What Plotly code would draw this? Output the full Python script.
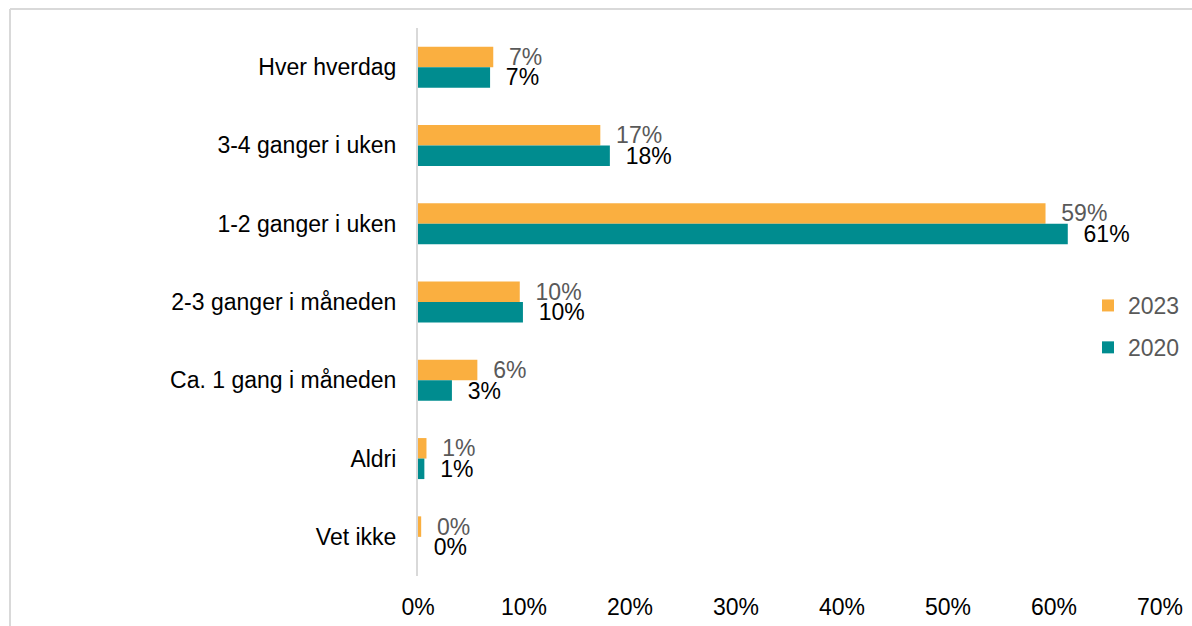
import plotly.graph_objects as go

categories = ["Hver hverdag", "3-4 ganger i uken", "1-2 ganger i uken", "2-3 ganger i måneden",
              "Ca. 1 gang i måneden", "Aldri", "Vet ikke"]
values_2023 = [0.071, 0.172, 0.592, 0.096, 0.056, 0.008, 0.003]
values_2020 = [0.068, 0.181, 0.613, 0.099, 0.032, 0.006, 0.0]
x_ticks = [0, 0.1, 0.2, 0.3, 0.4, 0.5, 0.6, 0.7]
x_ticklabels = ["0%", "10%", "20%", "30%", "40%", "50%", "60%", "70%"]

ORANGE = "#FAAF40"
TEAL = "#008C8F"
FONT = "Liberation Sans, Arial, sans-serif"
FS = 23

fig = go.Figure()
fig.add_trace(go.Bar(
    y=categories, x=values_2023, name="2023", orientation="h",
    marker=dict(color=ORANGE, line=dict(width=0)),
    texttemplate="  %{x:.0%}", textposition="outside", constraintext="none",
    textfont=dict(family=FONT, size=FS, color="#595959"),
    cliponaxis=False, legendgroup="a",
))
fig.add_trace(go.Bar(
    y=categories, x=values_2020, name="2020", orientation="h",
    marker=dict(color=TEAL, line=dict(width=0)),
    texttemplate="  %{x:.0%}", textposition="outside", constraintext="none",
    textfont=dict(family=FONT, size=FS, color="#000000"),
    cliponaxis=False, legendgroup="b",
))

W, H = 1192, 626
L, R, T, B = 418, 32, 28, 50
pw, ph = W - L - R, H - T - B

fig.update_layout(
    width=W, height=H,
    margin=dict(l=L, r=R, t=T, b=B, autoexpand=False),
    paper_bgcolor="white", plot_bgcolor="white",
    barmode="group", bargap=0.476, bargroupgap=0,
    font=dict(family=FONT, size=FS, color="#000000"),
    showlegend=True,
    legend=dict(x=(1088 - L) / pw, y=(H - B - 284) / ph, xanchor="left", yanchor="top",
                font=dict(size=FS, color="#595959"), traceorder="grouped",
                tracegroupgap=9, bgcolor="rgba(0,0,0,0)", itemwidth=30),
    xaxis=dict(range=[0, 0.7], tickvals=x_ticks, ticktext=x_ticklabels,
               showgrid=False, zeroline=False, showline=False,
               ticks="outside", ticklen=10, tickcolor="rgba(0,0,0,0)",
               tickfont=dict(family=FONT, size=FS, color="#000000")),
    yaxis=dict(autorange="reversed", showgrid=False, zeroline=False,
               showline=True, linecolor="#D9D9D9", linewidth=2,
               ticks="outside", ticklen=15, tickcolor="rgba(0,0,0,0)",
               tickfont=dict(family=FONT, size=FS, color="#000000")),
)

# outer frame lines (light gray)
x_left = (10 - L) / pw
y_top = (H - B - 9) / ph
fig.add_shape(type="line", xref="paper", yref="paper", x0=x_left, x1=x_left, y0=y_top, y1=-0.2,
              line=dict(color="#D9D9D9", width=2))
fig.add_shape(type="line", xref="paper", yref="paper", x0=x_left, x1=1.2, y0=y_top, y1=y_top,
              line=dict(color="#D9D9D9", width=2))

fig.write_html("out.html", config={"displayModeBar": False},
               post_script="document.body.style.margin='0';document.body.style.overflow='hidden';")
